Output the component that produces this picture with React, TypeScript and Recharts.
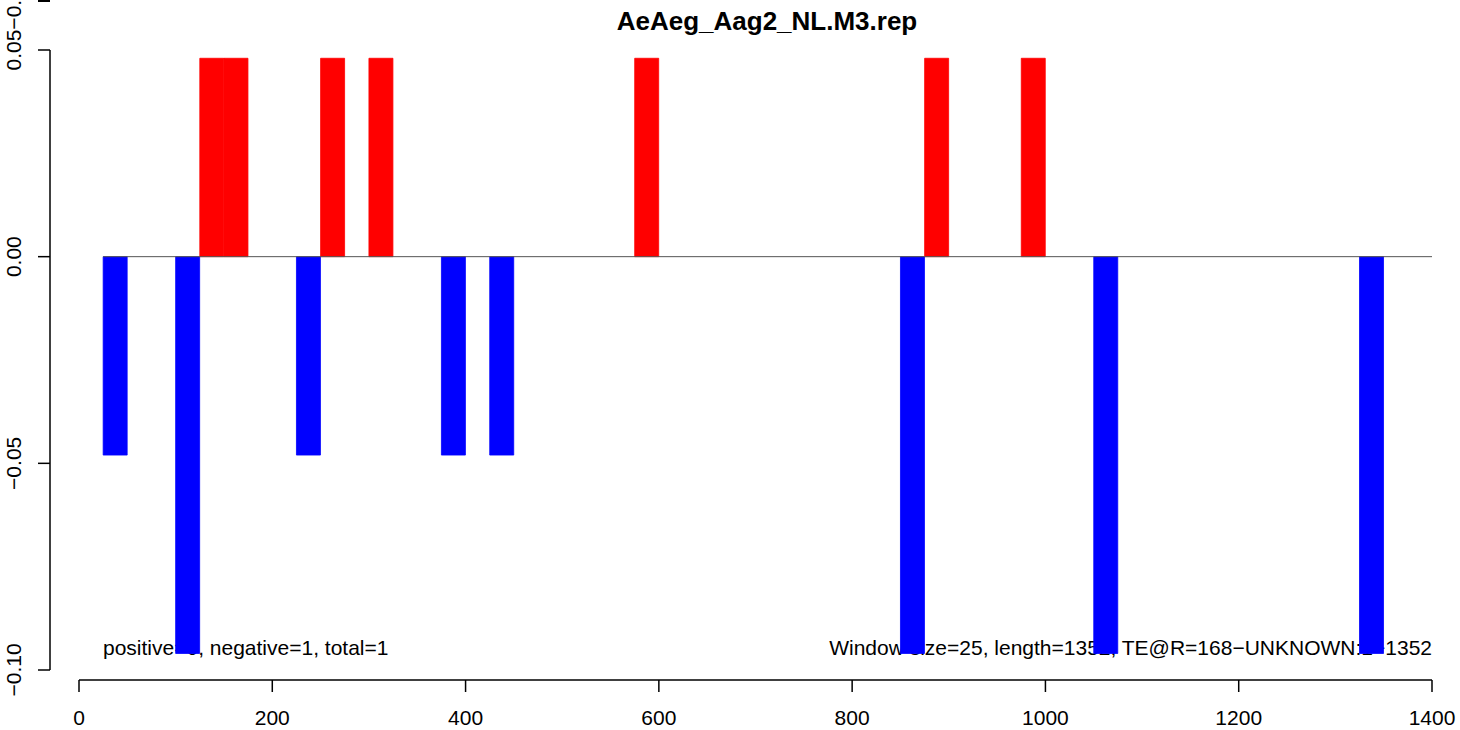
import { BarChart, Bar, XAxis, YAxis, Cell, ReferenceLine } from 'recharts';

const FONT = '"Liberation Sans", Arial, Helvetica, sans-serif';

const chartTitle = 'AeAeg_Aag2_NL.M3.rep';
const countsNote = 'positive=0, negative=1, total=1';
const windowNote = 'Window size=25, length=1352, TE@R=168\u2212UNKNOWN:1\u22121352';

const windowSize = 25;
// windows (start position) with reads on the plus strand
const posStarts = [125, 150, 250, 300, 575, 875, 975];
const posValues = [0.048, 0.048, 0.048, 0.048, 0.048, 0.048, 0.048];
// windows with reads on the minus strand
const negStarts = [25, 100, 225, 375, 425, 850, 1050, 1325];
const negValues = [-0.048, -0.096, -0.048, -0.048, -0.048, -0.096, -0.096, -0.096];

const xTicks = [0, 200, 400, 600, 800, 1000, 1200, 1400];
const yTicks = [-0.1, -0.05, 0, 0.05];
const yTickLabels = ['\u22120.10', '\u22120.05', '0.00', '0.05\u22120.10'];

const data = [
    ...posStarts.map((s, i) => ({ pos: s + windowSize / 2, value: posValues[i] })),
    ...negStarts.map((s, i) => ({ pos: s + windowSize / 2, value: negValues[i] })),
].sort((a, b) => a.pos - b.pos);

const YTick = (props: any) => {
    const { x, y, index } = props;
    const label = yTickLabels[index];
    const cx = x - 17;
    // the top label runs off the page in the original, "0.05" stays centred on its tick
    const isTop = index === yTicks.length - 1;
    const ty = isTop ? y + 20.5 : y;
    return (
        <text
            x={cx}
            y={ty}
            transform={`rotate(-90, ${cx}, ${ty})`}
            textAnchor={isTop ? 'start' : 'middle'}
            fontSize={21}
            fontFamily={FONT}
            fill="#000"
        >
            {label}
        </text>
    );
};

const App = () => {
    return (
        <div style={{ position: 'absolute', left: 0, top: 0, width: 1460, height: 730, background: '#fff' }}>
            <BarChart
                width={1460}
                height={730}
                data={data}
                margin={{ top: 50, right: 28, left: 0, bottom: 0 }}
                barCategoryGap={0}
                barGap={0}
            >
                <XAxis xAxisId="pad" height={10} tick={false} axisLine={false} tickLine={false} />
                <XAxis
                    xAxisId="x"
                    dataKey="pos"
                    type="number"
                    domain={[0, 1400]}
                    ticks={xTicks}
                    interval={0}
                    height={50}
                    tickSize={12}
                    tickMargin={18}
                    axisLine={{ stroke: '#000', strokeWidth: 1.5 }}
                    tickLine={{ stroke: '#000', strokeWidth: 1.5 }}
                    tick={{ fill: '#000', fontSize: 21, fontFamily: FONT }}
                />
                <YAxis yAxisId="pad" width={29} tick={false} axisLine={false} tickLine={false} />
                <YAxis
                    yAxisId="y"
                    type="number"
                    domain={[-0.1, 0.05]}
                    ticks={yTicks}
                    interval={0}
                    width={50}
                    tickSize={12}
                    tickMargin={0}
                    axisLine={{ stroke: '#000', strokeWidth: 1.5 }}
                    tickLine={{ stroke: '#000', strokeWidth: 1.5 }}
                    tick={<YTick />}
                />
                <Bar dataKey="value" xAxisId="x" yAxisId="y" isAnimationActive={false}>
                    {data.map((d, i) => {
                        const c = d.value > 0 ? '#FF0000' : '#0000FF';
                        return <Cell key={`cell-${i}`} fill={c} stroke={c} strokeWidth={0.8} />;
                    })}
                </Bar>
                <ReferenceLine
                    xAxisId="x"
                    yAxisId="y"
                    segment={[{ x: negStarts[0], y: 0 }, { x: 1400, y: 0 }]}
                    stroke="#555"
                    strokeWidth={1}
                />
                {/* stray tick left over at the top edge of the original */}
                <line x1={38} y1={1} x2={50} y2={1} stroke="#000" strokeWidth={2} />
                <text x={767} y={30} textAnchor="middle" fontSize={26} fontWeight="bold" fontFamily={FONT} fill="#000">
                    {chartTitle}
                </text>
                <text x={103} y={655} textAnchor="start" fontSize={21} fontFamily={FONT} fill="#000">
                    {countsNote}
                </text>
                <text x={1432} y={655} textAnchor="end" fontSize={21} fontFamily={FONT} fill="#000">
                    {windowNote}
                </text>
            </BarChart>
        </div>
    );
};

export default App;
